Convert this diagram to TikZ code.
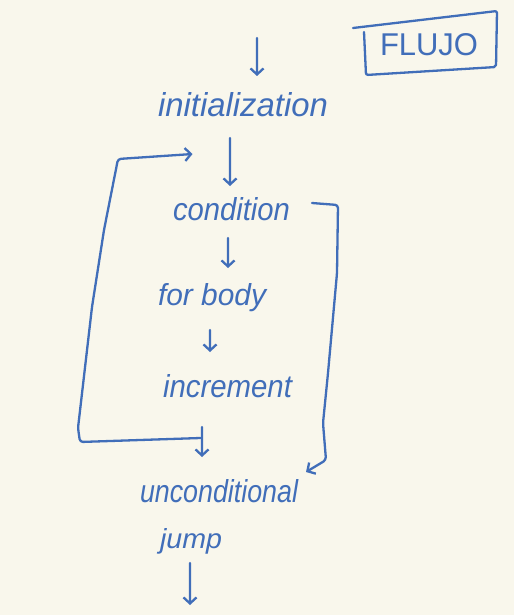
\documentclass[tikz,border=0pt]{standalone}
\usepackage{fontspec}
\setmainfont{Liberation Sans}
\usetikzlibrary{arrows.meta,calc}
\definecolor{ink}{RGB}{65,110,185}
\definecolor{paper}{RGB}{249,247,236}
\newcommand{\hw}[3]{\resizebox{#1pt}{#2pt}{\itshape #3}}
\begin{document}
\begin{tikzpicture}[x=1pt,y=-1pt,
  lbl/.style={inner sep=0pt,outer sep=0pt,anchor=base west,text=ink},
  ink line/.style={draw=ink,line width=2.3pt,line cap=round,line join=round},
  arr/.style={ink line,-{Straight Barb[length=6pt,width=13pt]}}]
\fill[paper] (0,0) rectangle (514,615);
\useasboundingbox (0,0) rectangle (514,615);

\node[lbl] (init) at (158,116) {\hw{170}{24}{initialization}};
\node[lbl] (cond) at (173,220) {\hw{117}{23}{condition}};
\node[lbl] (body) at (158,305) {\hw{108}{22}{for body}};
\node[lbl] (incr) at (163,397) {\hw{129}{23}{increment}};
\node[lbl] (unc)  at (140,502) {\hw{158}{23}{unconditional}};
\node[lbl] (jump) at (160,548) {\hw{62}{20}{jump}};
\node[lbl] (flujo) at (380,56) {\resizebox{98pt}{22pt}{FLUJO}};

\coordinate (top) at (257,38);
\coordinate (bot) at (190,605);

\draw[arr] (top) -- ($(init.base)+(14,-40)$);
\draw[arr] ($(init.base)+(-13,22)$) -- ($(cond.base)+(-1.5,-34)$);
\draw[arr] ($(cond.base)+(-3.5,18)$) -- ($(body.base)+(16,-37)$);
\draw[arr] ($(body.base)+(-2,25)$) -- ($(incr.base)+(-17.5,-45)$);
\draw[arr] ($(incr.base)+(-25.5,30)$) -- ($(unc.base)+(-17,-45)$);
\draw[arr] ($(jump.base)+(-1,15)$) -- (bot);

% loop back to condition
\draw[arr,rounded corners=3pt] ($(incr.base)+(-27,41)$) -- (80,442) -- (78,428)
  -- (92,307) -- (104,230) -- (118,159) -- ($(cond.base)+(-39,-66)$);

% exit to unconditional jump
\draw[arr,rounded corners=3pt] ($(cond.base)+(80.5,-17)$) -- (338,205) -- (337,273)
  -- (328,373) -- (323,423) -- (326,460) -- ($(unc.base)+(87,-30)$);

% FLUJO frame
\draw[ink line,rounded corners=2pt] (353,28) -- (497,11) -- (496,67) -- (366,75) -- (364,32);
\end{tikzpicture}
\end{document}
